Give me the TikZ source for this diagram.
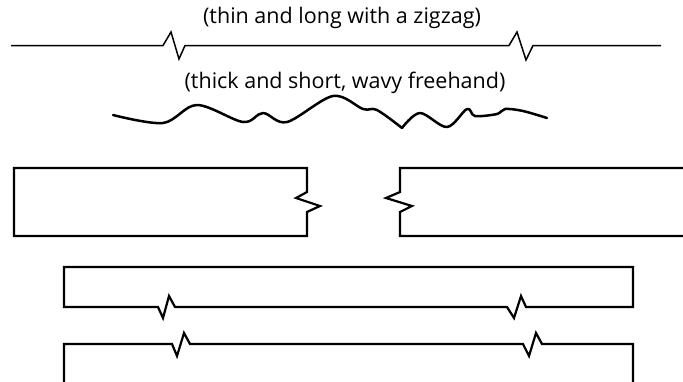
\documentclass[tikz,border=0pt]{standalone}
\usepackage{fontspec}
\setmainfont{Open Sans}
\begin{document}
\begin{tikzpicture}[x=1pt, y=-1pt,
    thinline/.style={line width=1.5pt},
    boxline/.style={line width=2.2pt},
    freehand/.style={line width=2.5pt, line join=round, line cap=round},
    caption/.style={font=\fontsize{21.5}{24}\selectfont}]
                \useasboundingbox (0, 0) rectangle (683, 381);
                \node [caption] (thin) at (342, 18) {(thin and long with a zigzag)};
                \node [caption] (thick) at (345, 83) {(thick and short, wavy freehand)};
                \draw [thinline] (11, 45.5) -- (163, 45.5) -- (171, 32) --
                    (179, 59) -- (185, 45.5) -- (509, 45.5) -- (517, 32) --
                    (526, 60) -- (533, 45.5) -- (661, 45.5);
                \draw [freehand] plot [smooth, tension=.55] coordinates {
                    (113, 115) (163, 123) (197, 105) (243, 122) (263, 113)
                    (287, 122) (333, 96) (363, 109) (377, 110) (402, 128)}
                    plot [smooth, tension=.55] coordinates {(402, 128)
                    (420, 113) (447, 127) (467, 109) (475, 116) (497, 114)
                    (505, 109) (523, 111) (547, 118)};
                \draw [boxline] (307, 168) -- (14, 168) -- (14, 236) --
                    (307, 236) -- (307, 212) -- (320, 206) -- (296, 198) --
                    (307, 192) -- cycle;
                \draw [boxline] (690, 168) -- (400, 168) -- (400, 192) --
                    (386, 198) -- (412, 206) -- (400, 212) -- (400, 236) --
                    (690, 236);
                \draw [boxline] (64, 267) -- (633, 267) -- (633, 307) --
                    (526, 307) -- (521, 296) -- (514, 318) -- (507, 307) --
                    (175, 307) -- (169, 296) -- (163, 318) -- (158, 307) --
                    (64, 307) -- cycle;
                \draw [boxline] (64, 385) -- (64, 344) -- (172, 344) --
                    (177, 356) -- (184, 333) -- (190, 344) -- (523, 344) --
                    (529, 356) -- (536, 333) -- (542, 344) -- (633, 344) --
                    (633, 385);
            \end{tikzpicture}
\end{document}
